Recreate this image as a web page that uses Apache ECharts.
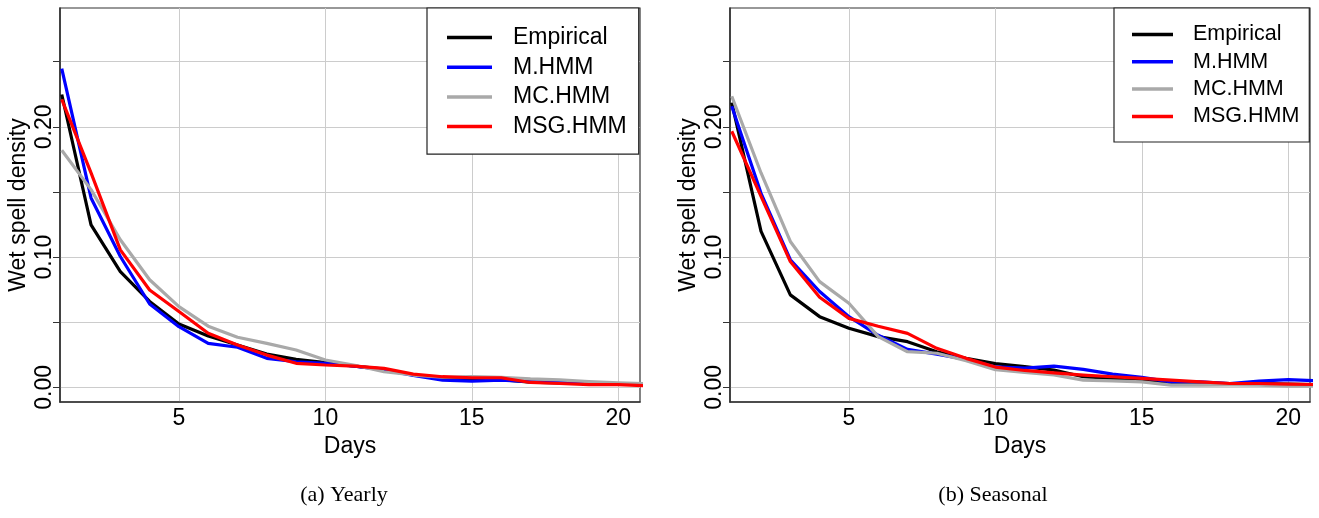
<!DOCTYPE html>
<html>
<head>
<meta charset="utf-8">
<title>Wet spell density</title>
<script src="https://cdn.jsdelivr.net/npm/echarts@6/dist/echarts.min.js"></script>
<style>
  html, body { margin: 0; padding: 0; background: #ffffff; }
  #chart { width: 1319px; height: 518px; }
</style>
</head>
<body>
<div id="chart"></div>
<script>
// Spell length in days
const days = [1, 2, 3, 4, 5, 6, 7, 8, 9, 10, 11, 12, 13, 14, 15, 16, 17, 18, 19, 20, 21];

// (a) Yearly models
const yearlyEmpirical = [0.2248, 0.1248, 0.0889, 0.0660, 0.0487, 0.0395, 0.0325, 0.0256, 0.0215, 0.0190, 0.0164, 0.0140, 0.0095, 0.0075, 0.0065, 0.0060, 0.0040, 0.0035, 0.0030, 0.0025, 0.0020];
const yearlyM       = [0.2446, 0.1454, 0.1005, 0.0640, 0.0466, 0.0338, 0.0308, 0.0223, 0.0197, 0.0185, 0.0164, 0.0135, 0.0092, 0.0056, 0.0048, 0.0056, 0.0045, 0.0040, 0.0030, 0.0028, 0.0022];
const yearlyMC      = [0.1820, 0.1518, 0.1133, 0.0826, 0.0620, 0.0470, 0.0385, 0.0338, 0.0287, 0.0210, 0.0170, 0.0120, 0.0095, 0.0078, 0.0082, 0.0078, 0.0065, 0.0058, 0.0045, 0.0035, 0.0028];
const yearlyMSG     = [0.2210, 0.1646, 0.1056, 0.0748, 0.0582, 0.0415, 0.0325, 0.0248, 0.0185, 0.0172, 0.0164, 0.0146, 0.0102, 0.0082, 0.0074, 0.0074, 0.0038, 0.0030, 0.0022, 0.0022, 0.0012];

// (b) Seasonal models
const seasonalEmpirical = [0.2185, 0.1197, 0.0710, 0.0543, 0.0454, 0.0390, 0.0351, 0.0274, 0.0223, 0.0183, 0.0159, 0.0133, 0.0082, 0.0069, 0.0056, 0.0036, 0.0035, 0.0030, 0.0030, 0.0025, 0.0022];
const seasonalM         = [0.2158, 0.1490, 0.0980, 0.0736, 0.0543, 0.0400, 0.0292, 0.0256, 0.0215, 0.0157, 0.0148, 0.0164, 0.0138, 0.0102, 0.0077, 0.0043, 0.0043, 0.0030, 0.0048, 0.0060, 0.0050];
const seasonalMC        = [0.2235, 0.1646, 0.1120, 0.0812, 0.0646, 0.0390, 0.0274, 0.0262, 0.0205, 0.0136, 0.0115, 0.0095, 0.0056, 0.0050, 0.0043, 0.0018, 0.0018, 0.0020, 0.0018, 0.0010, 0.0010];
const seasonalMSG       = [0.1966, 0.1466, 0.0966, 0.0692, 0.0530, 0.0469, 0.0415, 0.0300, 0.0223, 0.0156, 0.0130, 0.0112, 0.0095, 0.0082, 0.0069, 0.0056, 0.0043, 0.0030, 0.0030, 0.0025, 0.0022];

const seriesNames = ['Empirical', 'M.HMM', 'MC.HMM', 'MSG.HMM'];
const seriesColors = ['#000000', '#0000ff', '#a9a9a9', '#ff0000'];

// Axis ticks and labels
const xLabelValues = [5, 10, 15, 20];
const yTickValues = [0, 0.05, 0.10, 0.15, 0.20, 0.25];
const yLabelValues = [0, 0.10, 0.20];

const captions = ['(a) Yearly', '(b) Seasonal'];
const xTitle = 'Days';
const yTitle = 'Wet spell density';

const panels = [
  { values: [yearlyEmpirical, yearlyM, yearlyMC, yearlyMSG], left: 60, captionX: 344 },
  { values: [seasonalEmpirical, seasonalM, seasonalMC, seasonalMSG], left: 730, captionX: 993 }
];

const SANS = '"Liberation Sans", Arial, Helvetica, sans-serif';
const AXIS_DARK = '#333333';
const GRID_LIGHT = '#cccccc';

const grids = panels.map(p => ({
  left: p.left, top: 8, width: 580, height: 394,
  show: true, borderColor: AXIS_DARK, borderWidth: 1.2, backgroundColor: 'transparent'
}));

const xAxes = panels.map((p, i) => ({
  type: 'value', gridIndex: i, min: 0.94, max: 20.74,
  name: xTitle, nameLocation: 'middle', nameGap: 30,
  nameTextStyle: { fontFamily: SANS, fontSize: 23, color: '#000' },
  axisLine: { show: true, onZero: false, lineStyle: { color: AXIS_DARK, width: 1.6 } },
  axisTick: { show: false, customValues: xLabelValues },
  axisLabel: { customValues: xLabelValues, margin: 5, fontFamily: SANS, fontSize: 23, color: '#000' },
  splitLine: { show: true, lineStyle: { color: GRID_LIGHT, width: 1 } }
}));

const yAxes = panels.map((p, i) => ({
  type: 'value', gridIndex: i, min: -0.0112, max: 0.2912,
  name: yTitle, nameLocation: 'middle', nameGap: 30, nameRotate: 90,
  nameTextStyle: { fontFamily: SANS, fontSize: 23, color: '#000' },
  axisLine: { show: true, onZero: false, lineStyle: { color: AXIS_DARK, width: 1.6 } },
  axisTick: { show: true, inside: false, length: 7, customValues: yTickValues, lineStyle: { color: AXIS_DARK, width: 1 } },
  axisLabel: {
    customValues: yLabelValues, rotate: 90, margin: 4,
    fontFamily: SANS, fontSize: 23, color: '#000',
    formatter: v => v.toFixed(2)
  },
  splitLine: { show: true, lineStyle: { color: GRID_LIGHT, width: 1 } }
}));

const series = [];
panels.forEach((p, i) => {
  p.values.forEach((vals, k) => {
    series.push({
      name: seriesNames[k], type: 'line', xAxisIndex: i, yAxisIndex: i,
      data: days.map((d, j) => [d, vals[j]]),
      symbol: 'none', clip: true, z: 2 + k,
      color: seriesColors[k],
      lineStyle: { color: seriesColors[k], width: 3.2, join: 'round' }
    });
  });
});

const legends = [
  { left: 427, top: 8, padding: [18, 12, 16, 20], itemWidth: 45, itemHeight: 3.5, itemGap: 6.7, fontSize: 23, lineHeight: 22, textPad: 16 },
  { left: 1114, top: 8, padding: [15.5, 10, 14.6, 18], itemWidth: 41, itemHeight: 3.5, itemGap: 5.3, fontSize: 21.5, lineHeight: 21, textPad: 15 }
].map(l => ({
  orient: 'vertical', left: l.left, top: l.top, padding: l.padding,
  data: seriesNames.map(n => ({ name: n, icon: 'rect' })),
  itemWidth: l.itemWidth, itemHeight: l.itemHeight, itemGap: l.itemGap,
  borderColor: '#222222', borderWidth: 1.2, backgroundColor: '#ffffff',
  selectedMode: false,
  textStyle: { fontFamily: SANS, fontSize: l.fontSize, lineHeight: l.lineHeight, color: '#000', padding: [0, 0, 0, l.textPad] }
}));

const captionGraphics = captions.map((c, i) => ({
  type: 'text', x: panels[i].captionX, y: 495,
  style: { text: c, fill: '#000', font: '22px "Liberation Serif", "DejaVu Serif", serif', textAlign: 'center', textVerticalAlign: 'middle' }
}));

const chart = echarts.init(document.getElementById('chart'), null, { renderer: 'canvas' });
chart.setOption({
  animation: false,
  backgroundColor: '#ffffff',
  grid: grids,
  xAxis: xAxes,
  yAxis: yAxes,
  legend: legends,
  series: series,
  graphic: captionGraphics
});
</script>
</body>
</html>
